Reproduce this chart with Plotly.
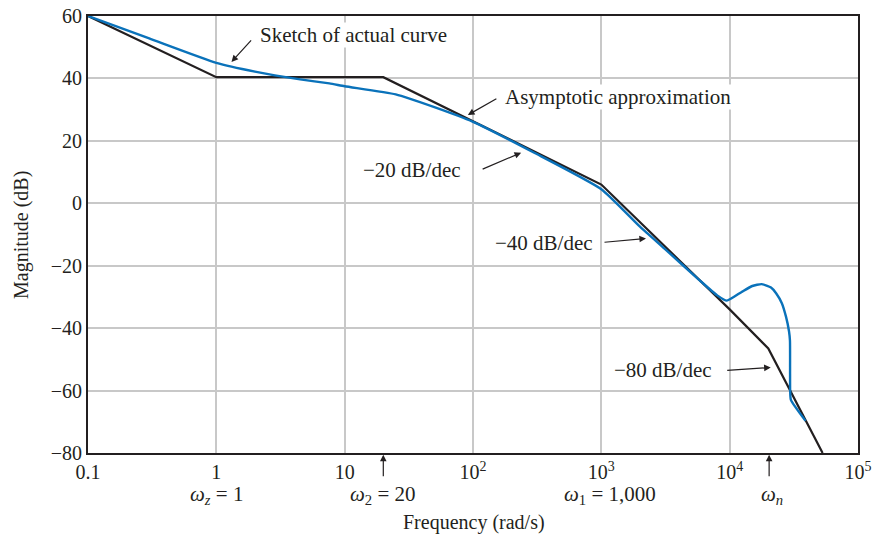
import numpy as np
import plotly.graph_objects as go

# Asymptotic approximation (break points)
asym_freq = [0.1, 1, 20, 1000, 10000, 20000, 53000]
asym_mag = [60, 40.4, 40.4, 6, -34, -46.5, -80]

# Sketch of actual curve
act_freq = [0.1, 0.3, 1, 2, 4.5, 7.6, 10, 25, 50, 100, 300, 1000, 2000, 3200, 5800,
            8000, 9500, 12400, 15000, 17800, 21000, 23000, 25500, 27500, 29000,
            29500, 29600, 30000, 39000]
act_mag = [60, 52.8, 45, 42.2, 39.7, 38.4, 37.5, 34.9, 30.8, 26.1, 16.2, 4.5, -7.5, -15,
           -24.6, -29.5, -31.2, -28.4, -26.5, -25.9, -27, -28.8, -32, -36.4, -41,
           -44, -60, -63, -69.7]

xtick_vals = [0.1, 1, 10, 100, 1000, 10000, 100000]
xtick_text = ["0.1", "1", "10", "10<sup>2</sup>", "10<sup>3</sup>", "10<sup>4</sup>", "10<sup>5</sup>"]
ytick_vals = [-80, -60, -40, -20, 0, 20, 40, 60]
ytick_text = ["\u221280", "\u221260", "\u221240", "\u221220", "0", "20", "40", "60"]

# corner frequencies marked below the axis
corner_freq = [1, 20, 1000, 20300]
corner_text = ["<i>\u03c9</i><sub><i>z</i></sub> = 1", "<i>\u03c9</i><sub>2</sub> = 20",
               "<i>\u03c9</i><sub>1</sub> = 1,000", "<i>\u03c9</i><sub><i>n</i></sub>"]
corner_shift = [0, 0, 9, 3]
corner_arrow = [False, True, False, True]

FONT = "Liberation Serif"
INK = "#231f20"
fig = go.Figure()
fig.add_trace(go.Scatter(x=asym_freq, y=asym_mag, mode="lines",
                         line=dict(color=INK, width=2.2)))
fig.add_trace(go.Scatter(x=act_freq, y=act_mag, mode="lines",
                         line=dict(color="#0a72ba", width=2.4, shape="spline", smoothing=0.5)))

anns = []
# labels with arrows: (text, text_x(log), text_y, head_x(log), head_y, ax, ay)
labels = [
    ("Sketch of actual curve", 0.331, 53.9, 0.118, 45.3, 21, -23),
    ("Asymptotic approximation", 2.245, 34.0, 1.96, 28.3, 30, -17),
    ("\u221220 dB/dec", 1.132, 10.6, 2.375, 16.2, -40, 17),
    ("\u221240 dB/dec", 2.167, -12.75, 3.348, -11.25, -43, 4),
    ("\u221280 dB/dec", 3.093, -53.5, 4.32, -52.6, -45, 3),
]
for t, tx, ty, hx, hy, ax, ay in labels:
    anns.append(dict(x=tx, y=ty, xref="x", yref="y", text=t, showarrow=False,
                     xanchor="left", yanchor="middle", bgcolor="white",
                     font=dict(family=FONT, size=21, color=INK), borderpad=0))
    anns.append(dict(x=hx, y=hy, xref="x", yref="y", ax=ax, ay=ay, text="",
                     showarrow=True, arrowhead=2, arrowsize=1.1, arrowwidth=1.2,
                     arrowcolor=INK))

for f, t, sh, arr in zip(corner_freq, corner_text, corner_shift, corner_arrow):
    lx = np.log10(f)
    anns.append(dict(x=lx, y=-0.097, xref="x", yref="paper", text=t, showarrow=False,
                     xanchor="center", yanchor="middle", xshift=sh,
                     font=dict(family=FONT, size=21, color=INK)))
    if arr:
        anns.append(dict(x=lx, y=-0.004, xref="x", yref="paper", ax=0, ay=23, text="",
                         showarrow=True, arrowhead=2, arrowsize=1.1, arrowwidth=1.2,
                         arrowcolor=INK))

anns.append(dict(x=0.501, y=-0.158, xref="paper", yref="paper", text="Frequency (rad/s)",
                 showarrow=False, xanchor="center", yanchor="middle",
                 font=dict(family=FONT, size=20, color=INK)))
anns.append(dict(x=-0.0857, y=0.499, xref="paper", yref="paper", text="Magnitude (dB)",
                 showarrow=False, xanchor="center", yanchor="middle", textangle=-90,
                 font=dict(family=FONT, size=20, color=INK)))

fig.update_layout(
    width=886, height=538,
    margin=dict(l=88, r=28, t=16, b=85),
    plot_bgcolor="white", paper_bgcolor="white",
    showlegend=False,
    font=dict(family=FONT, size=20, color=INK),
    annotations=anns,
    xaxis=dict(type="log", range=[-1, 5], tickvals=xtick_vals, ticktext=xtick_text,
               showgrid=True, gridcolor="#c8c8c8", gridwidth=1.5,
               showline=True, linecolor=INK, linewidth=2, mirror=True,
               zeroline=False, ticks="", automargin=False,
               tickfont=dict(family=FONT, size=20, color=INK)),
    yaxis=dict(range=[-80, 60], tickvals=ytick_vals, ticktext=ytick_text,
               showgrid=True, gridcolor="#c8c8c8", gridwidth=1.5,
               showline=True, linecolor=INK, linewidth=2, mirror=True,
               zeroline=False, ticks="", automargin=False,
               tickfont=dict(family=FONT, size=20, color=INK)),
)
fig.write_html("out.html", config={"displayModeBar": False},
               post_script="document.body.style.margin='0';")
